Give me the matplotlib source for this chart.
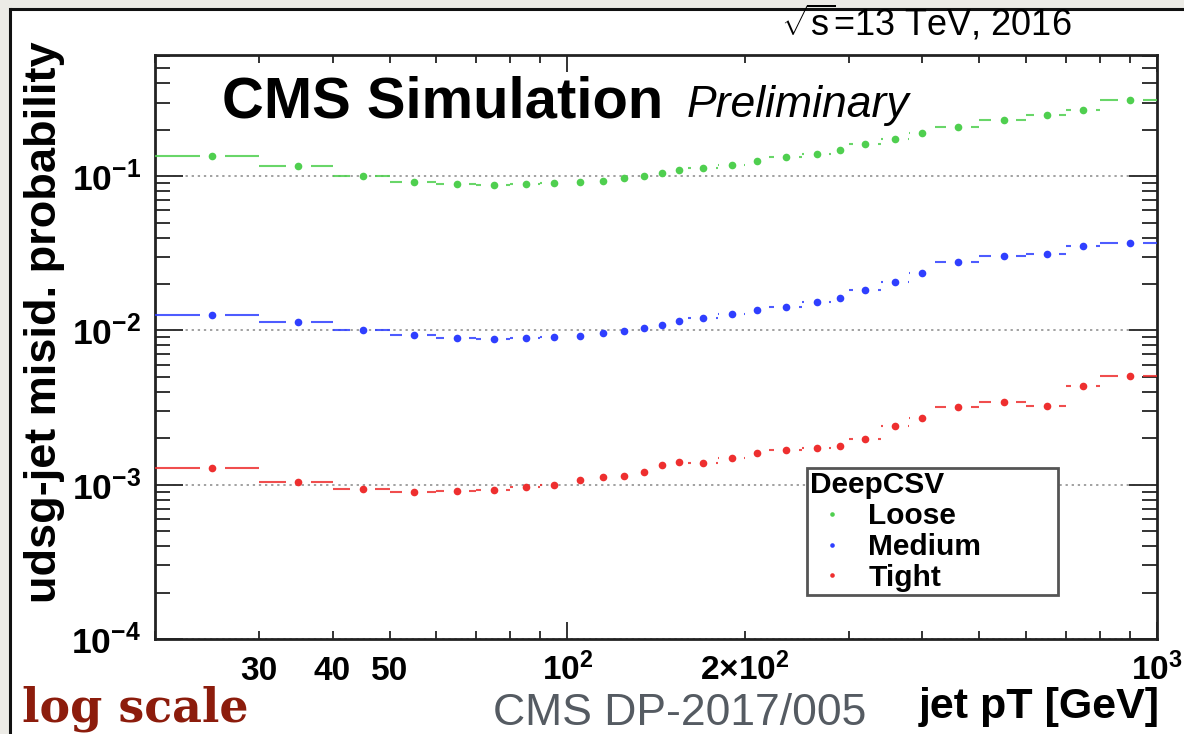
import matplotlib
matplotlib.use("Agg")
import matplotlib.pyplot as plt
from matplotlib.patches import Rectangle
from matplotlib.lines import Line2D
from matplotlib.ticker import FixedLocator, FuncFormatter

# ---------------- data ----------------
bin_edges = [20, 30, 40, 50, 60, 70, 80, 90, 100, 110, 120, 130, 140, 150, 160,
             180, 200, 220, 250, 280, 300, 340, 380, 420, 500, 600, 700, 800, 1000]

loose = [0.136, 0.1156, 0.100, 0.0914, 0.0893, 0.0870, 0.0893, 0.0906, 0.0914, 0.0937,
         0.0970, 0.100, 0.1046, 0.1089, 0.1127, 0.119, 0.125, 0.133, 0.140, 0.148,
         0.162, 0.175, 0.191, 0.208, 0.230, 0.250, 0.267, 0.310]
medium = [0.01252, 0.01132, 0.0100, 0.00928, 0.00891, 0.00883, 0.00897, 0.00905, 0.00918, 0.00960,
          0.00985, 0.01035, 0.0109, 0.0115, 0.0120, 0.0127, 0.0135, 0.0142, 0.0153, 0.0162,
          0.0184, 0.0206, 0.0237, 0.0278, 0.0304, 0.0315, 0.0351, 0.0367]
tight = [0.00128, 0.00104, 0.000942, 0.000891, 0.000914, 0.000928, 0.000971, 0.00100, 0.00108, 0.00112,
         0.00114, 0.00121, 0.00134, 0.00140, 0.00138, 0.00149, 0.00161, 0.00168, 0.00173, 0.00177,
         0.00198, 0.00239, 0.00270, 0.00321, 0.00342, 0.00326, 0.00439, 0.00510]

series_names = ["Loose", "Medium", "Tight"]
series_colors = ["#4fcf4f", "#2f3fff", "#ee2f2f"]

x_label_values = [30, 40, 50, 100, 200, 1000]
x_label_texts = ["30", "40", "50", r"$\mathbf{10^{2}}$", r"$\mathbf{2{\times}10^{2}}$", r"$\mathbf{10^{3}}$"]
y_label_values = [1e-4, 1e-3, 1e-2, 1e-1]
y_label_texts = [r"$\mathbf{10^{-4}}$", r"$\mathbf{10^{-3}}$", r"$\mathbf{10^{-2}}$", r"$\mathbf{10^{-1}}$"]

# ---------------- style ----------------
plt.rcParams["font.family"] = ["Liberation Sans", "DejaVu Sans"]
plt.rcParams["mathtext.fontset"] = "custom"
plt.rcParams["mathtext.rm"] = "Liberation Sans"
plt.rcParams["mathtext.bf"] = "Liberation Sans:bold"
plt.rcParams["mathtext.it"] = "Liberation Sans:italic"
plt.rcParams["mathtext.sf"] = "Liberation Sans"

W, H = 1184, 734
fig = plt.figure(figsize=(W / 100, H / 100), dpi=100, facecolor="#ecebe6")

def fx(px):
    return px / W

def fy(py):
    return 1 - py / H

# white panel with black border on left and top
panel = Rectangle((fx(10), -0.05), 1.2, fy(9) + 0.05, transform=fig.transFigure,
                  facecolor="white", edgecolor="none", zorder=-10)
fig.add_artist(panel)
fig.add_artist(Line2D([fx(10), fx(10)], [-0.05, fy(9)], transform=fig.transFigure,
                      color="#111111", linewidth=2.2, zorder=-9))
fig.add_artist(Line2D([fx(10), 1.0], [fy(9), fy(9)], transform=fig.transFigure,
                      color="#111111", linewidth=2.2, zorder=-9, solid_capstyle="butt"))

ax_l, ax_r, ax_t, ax_b = 155, 1157, 55, 639
ax = fig.add_axes([fx(ax_l), fy(ax_b), (ax_r - ax_l) / W, (ax_b - ax_t) / H])
ax.set_zorder(1)
ax.set_facecolor("white")
ax.set_xscale("log")
ax.set_yscale("log")
ax.set_xlim(20, 1000)
ax.set_ylim(1e-4, 0.61)

# data
gap = 1.05
handles = []
for name, vals, col in zip(series_names, [loose, medium, tight], series_colors):
    lo = bin_edges[:-1]
    hi = bin_edges[1:]
    centers = [(a + b) / 2 for a, b in zip(lo, hi)]
    ys, x0, x1 = [], [], []
    for c, a, b, v in zip(centers, lo, hi, vals):
        if a < c / gap:
            ys.append(v); x0.append(a); x1.append(c / gap)
        if c * gap < b:
            ys.append(v); x0.append(c * gap); x1.append(b)
    ax.hlines(ys, x0, x1, colors=col, linewidth=1.5, alpha=0.85, zorder=3)
    h, = ax.plot(centers, vals, linestyle="none", marker="o", markersize=5.5,
                 color=col, markeredgewidth=0, label=name, zorder=4)
    handles.append(h)

# ticks
label_map_x = dict(zip(x_label_values, x_label_texts))
label_map_y = dict(zip(y_label_values, y_label_texts))

ax.xaxis.set_major_locator(FixedLocator([100, 1000]))
ax.xaxis.set_minor_locator(FixedLocator([20, 30, 40, 50, 60, 70, 80, 90,
                                         200, 300, 400, 500, 600, 700, 800, 900]))
fmt_x = FuncFormatter(lambda v, p: next((t for k, t in label_map_x.items() if abs(k - v) < 1e-6 * k), ""))
ax.xaxis.set_major_formatter(fmt_x)
ax.xaxis.set_minor_formatter(fmt_x)

ax.yaxis.set_major_locator(FixedLocator(y_label_values))
ax.yaxis.set_minor_locator(FixedLocator([m * 10.0 ** e for e in range(-4, 0) for m in range(2, 10)]))
fmt_y = FuncFormatter(lambda v, p: next((t for k, t in label_map_y.items() if abs(k - v) < 1e-6 * k), ""))
ax.yaxis.set_major_formatter(fmt_y)
ax.yaxis.set_minor_formatter(FuncFormatter(lambda v, p: ""))

ax.tick_params(axis="both", which="both", direction="in", top=True, right=True,
               color="#333333", width=1.4)
ax.tick_params(axis="x", which="major", length=12, pad=29.5, labelsize=24)
ax.tick_params(axis="x", which="minor", length=6, pad=29.5, labelsize=24)
ax.tick_params(axis="y", which="major", length=20, pad=10, labelsize=25.5)
ax.tick_params(axis="y", which="minor", length=11)
for t in ax.get_xticklabels(which="both"):
    t.set_fontweight("bold")
    t.set_verticalalignment("baseline")

for s in ax.spines.values():
    s.set_linewidth(2)
    s.set_color("#222222")

ax.yaxis.grid(True, which="major", color="#888888", linestyle=(0, (1.5, 2.5)), linewidth=1.1)
ax.xaxis.grid(False)
ax.set_axisbelow(True)

# axis labels
ax.set_ylabel("udsg-jet misid. probability", fontsize=32.5, fontweight="bold", va="center")
ax.yaxis.set_label_coords((45 - ax_l) / (ax_r - ax_l), (ax_b - 322) / (ax_b - ax_t))
ax.set_xlabel("jet pT [GeV]", fontsize=31, fontweight="bold", ha="right", va="baseline")
ax.xaxis.set_label_coords((1160 - ax_l) / (ax_r - ax_l), (ax_b - 718) / (ax_b - ax_t))

# texts
def ax_xy(px, py):
    return (px - ax_l) / (ax_r - ax_l), (ax_b - py) / (ax_b - ax_t)

ax.text(*ax_xy(222, 118), "CMS Simulation", transform=ax.transAxes, fontsize=41.8,
        fontweight="bold", va="baseline", ha="left")
ax.text(*ax_xy(687, 117), "Preliminary", transform=ax.transAxes, fontsize=32,
        fontstyle="italic", va="baseline", ha="left")
ax.text(*ax_xy(1072, 35), r"$\sqrt{\mathrm{s}}$=13 TeV, 2016", transform=ax.transAxes, fontsize=26,
        va="baseline", ha="right", clip_on=False)

# legend
leg = ax.legend(handles=handles, title="DeepCSV", loc="upper left",
                bbox_to_anchor=(fx(807), fy(595), (1058 - 807) / W, (595 - 468) / H),
                bbox_transform=fig.transFigure, mode="expand", borderaxespad=0,
                prop={"weight": "bold", "size": 21.5},
                title_fontproperties={"weight": "bold", "size": 21.5},
                alignment="left", frameon=True, fancybox=False, framealpha=1,
                edgecolor="#555555", markerscale=0.6, handlelength=1.5,
                handletextpad=0.45, borderpad=0.1, labelspacing=0.1)
leg.get_frame().set_linewidth(2)
leg.set_zorder(5)

# slide annotations
fig.text(fx(22), fy(721), "log scale", fontsize=33, fontweight="bold",
         family=["DejaVu Serif"], color="#8c1c0c", va="baseline", ha="left")
fig.text(fx(493), fy(725), "CMS DP-2017/005", fontsize=32, color="#555b62",
         va="baseline", ha="left")

fig.savefig("out.png", dpi=100, facecolor=fig.get_facecolor())
